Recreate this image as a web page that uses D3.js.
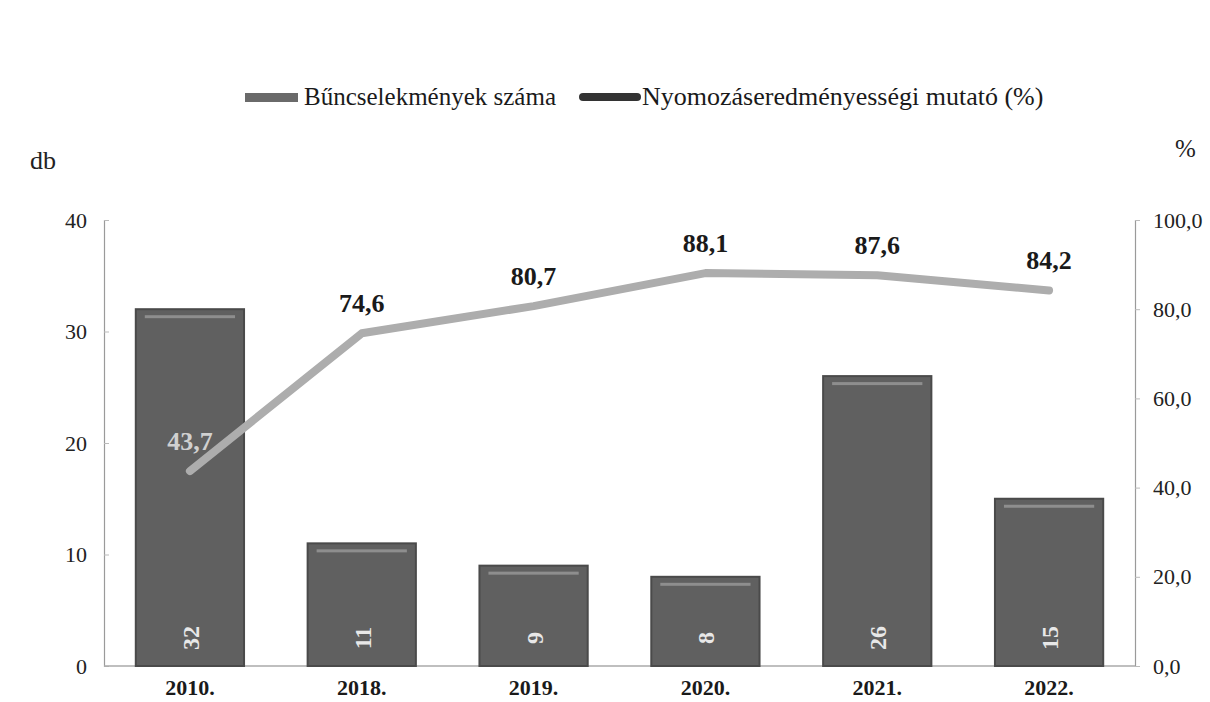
<!DOCTYPE html>
<html>
<head>
<meta charset="utf-8">
<script src="https://cdn.jsdelivr.net/npm/d3@7"></script>
<style>
  body { margin: 0; background: #fff; }
</style>
</head>
<body>
<div id="chart"></div>
<script>
// data
var years = ['2010.', '2018.', '2019.', '2020.', '2021.', '2022.'];
var crimeCounts = [32, 11, 9, 8, 26, 15];
var clearanceRate = [43.7, 74.6, 80.7, 88.1, 87.6, 84.2];
var leftTicks = [0, 10, 20, 30, 40];
var rightTicks = [0, 20, 40, 60, 80, 100];

var FONT = "'Liberation Serif', serif";
var width = 1210, height = 702;
var margin = { top: 220, right: 75, bottom: 36, left: 104 };
var innerW = width - margin.left - margin.right;
var innerH = height - margin.top - margin.bottom;

var svg = d3.select('#chart').append('svg')
    .attr('width', width)
    .attr('height', height)
    .style('font-family', FONT);

var g = svg.append('g')
    .attr('transform', `translate(${margin.left},${margin.top})`);

var x = d3.scaleBand().domain(years).range([0, innerW]).paddingInner(0.37).paddingOuter(0.185);
var yLeft = d3.scaleLinear().domain([0, 40]).range([innerH, 0]);
var yRight = d3.scaleLinear().domain([0, 100]).range([innerH, 0]);
var fmtComma = v => d3.format('.1f')(v).replace('.', ',');

// left axis
var leftAxis = g.append('g')
    .call(d3.axisLeft(yLeft).tickValues(leftTicks).tickSize(-5).tickPadding(17));
leftAxis.attr('font-family', null);
leftAxis.select('.domain').attr('stroke', '#9a9a9a').attr('stroke-width', 1.2);
leftAxis.selectAll('.tick line').attr('stroke', '#bbb');
leftAxis.selectAll('text').style('font-family', FONT).attr('font-size', 22).attr('fill', '#222');

// right axis
var rightAxis = g.append('g')
    .attr('transform', `translate(${innerW},0)`)
    .call(d3.axisRight(yRight).tickValues(rightTicks).tickFormat(fmtComma).tickSize(5).tickPadding(13));
rightAxis.attr('font-family', null);
rightAxis.select('.domain').attr('stroke', '#9a9a9a').attr('stroke-width', 1.2);
rightAxis.selectAll('.tick line').attr('stroke', '#bbb');
rightAxis.selectAll('text').style('font-family', FONT).attr('font-size', 22).attr('fill', '#222');

// baseline
g.append('line')
    .attr('x1', 0).attr('x2', innerW)
    .attr('y1', innerH).attr('y2', innerH)
    .attr('stroke', '#aaa').attr('stroke-width', 1.5);

// axis titles
svg.append('text').attr('x', 30).attr('y', 169)
    .style('font-family', FONT)
    .attr('font-size', 26).attr('fill', '#222').text('db');
svg.append('text').attr('x', 1175).attr('y', 157)
    .style('font-family', FONT)
    .attr('font-size', 25).attr('fill', '#222').text('%');

// bars
var bars = g.append('g').selectAll('g.bar')
    .data(crimeCounts)
    .enter().append('g')
    .attr('class', 'bar');

bars.append('rect')
    .attr('x', (d, i) => x(years[i]))
    .attr('y', d => yLeft(d))
    .attr('width', x.bandwidth())
    .attr('height', d => innerH - yLeft(d))
    .attr('fill', '#606060')
    .attr('stroke', '#4a4a4a')
    .attr('stroke-width', 2);

// bevel highlight near top of bars
bars.append('rect')
    .attr('x', (d, i) => x(years[i]) + 9)
    .attr('y', d => yLeft(d) + 6)
    .attr('width', x.bandwidth() - 18)
    .attr('height', 3)
    .attr('fill', '#9a9a9a')
    .attr('opacity', 0.8);

// rotated value labels
bars.append('text')
    .attr('transform', (d, i) => `translate(${x(years[i]) + x.bandwidth() / 2 + 9},${innerH - 28}) rotate(-90)`)
    .attr('text-anchor', 'middle')
    .style('font-family', FONT)
    .attr('font-size', 24)
    .attr('font-weight', 'bold')
    .attr('fill', '#e8e8e8')
    .text(d => d);

// line
var cx = (d, i) => x(years[i]) + x.bandwidth() / 2;
var line = d3.line()
    .x(cx)
    .y(d => yRight(d));

g.append('path')
    .datum(clearanceRate)
    .attr('d', line)
    .attr('fill', 'none')
    .attr('stroke', '#adadad')
    .attr('stroke-width', 8)
    .attr('stroke-linecap', 'round')
    .attr('stroke-linejoin', 'round');

g.append('g').selectAll('text')
    .data(clearanceRate)
    .enter().append('text')
    .attr('x', cx)
    .attr('y', d => yRight(d) - 21)
    .attr('text-anchor', 'middle')
    .style('font-family', FONT)
    .attr('font-size', 26)
    .attr('font-weight', 'bold')
    .attr('fill', (d, i) => i === 0 ? '#d0d0d0' : '#1a1a1a')
    .text(fmtComma);

// category labels
g.append('g').selectAll('text')
    .data(years)
    .enter().append('text')
    .attr('x', d => x(d) + x.bandwidth() / 2)
    .attr('y', innerH + 29)
    .attr('text-anchor', 'middle')
    .style('font-family', FONT)
    .attr('font-size', 22)
    .attr('font-weight', 'bold')
    .attr('fill', '#1a1a1a')
    .text(d => d);

// legend
var legend = svg.append('g');
legend.append('rect')
    .attr('x', 245).attr('y', 93).attr('width', 53).attr('height', 9)
    .attr('fill', '#6a6a6a');
legend.append('text')
    .attr('x', 304).attr('y', 105)
    .style('font-family', FONT)
    .attr('font-size', 25).attr('fill', '#1a1a1a')
    .text('Bűncselekmények száma');
legend.append('line')
    .attr('x1', 583).attr('x2', 637).attr('y1', 97).attr('y2', 97)
    .attr('stroke', '#333').attr('stroke-width', 8).attr('stroke-linecap', 'round');
legend.append('text')
    .attr('x', 642).attr('y', 105)
    .style('font-family', FONT)
    .attr('font-size', 26).attr('fill', '#1a1a1a')
    .text('Nyomozáseredményességi mutató (%)');
</script>
</body>
</html>
